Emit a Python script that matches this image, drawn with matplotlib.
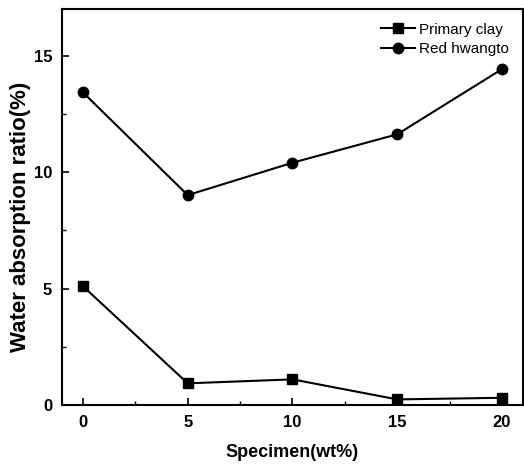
import matplotlib
matplotlib.use("Agg")
import matplotlib.pyplot as plt
from matplotlib.ticker import MultipleLocator

plt.rcParams['font.family'] = ['Liberation Sans', 'DejaVu Sans']

x = [0, 5, 10, 15, 20]
primary_clay = [5.1, 0.93, 1.1, 0.24, 0.31]
red_hwangto = [13.42, 9.01, 10.4, 11.62, 14.42]

fig = plt.figure(figsize=(5.24, 4.66), dpi=100)
ax = fig.add_axes([0.1183, 0.1309, 0.8797, 0.8498])

ax.plot(x, primary_clay, color='black', marker='s', markersize=7.5, linewidth=1.5, label='Primary clay')
ax.plot(x, red_hwangto, color='black', marker='o', markersize=7.5, linewidth=1.5, label='Red hwangto')

ax.set_xlim(-1, 21)
ax.set_ylim(0, 17)
ax.xaxis.set_major_locator(MultipleLocator(5))
ax.xaxis.set_minor_locator(MultipleLocator(2.5))
ax.yaxis.set_major_locator(MultipleLocator(5))
ax.yaxis.set_minor_locator(MultipleLocator(2.5))
ax.tick_params(which='both', direction='in', top=False, right=False)
ax.tick_params(which='major', length=5, width=1.2, labelsize=12, pad=7)
ax.tick_params(which='minor', length=3, width=1)
for lab in ax.get_xticklabels() + ax.get_yticklabels():
    lab.set_fontweight('bold')
for s in ax.spines.values():
    s.set_linewidth(1.5)

ax.set_xlabel('Specimen(wt%)', fontsize=13, fontweight='bold', labelpad=10)
ax.set_ylabel('Water absorption ratio(%)', fontsize=16, fontweight='bold')
ax.yaxis.set_label_coords(-0.068, 0.475)

ax.legend(loc='upper right', frameon=False, fontsize=11, handlelength=2.2,
          borderaxespad=0.5, labelspacing=0.35, handletextpad=0.3)

fig.savefig('out.png', dpi=100)
